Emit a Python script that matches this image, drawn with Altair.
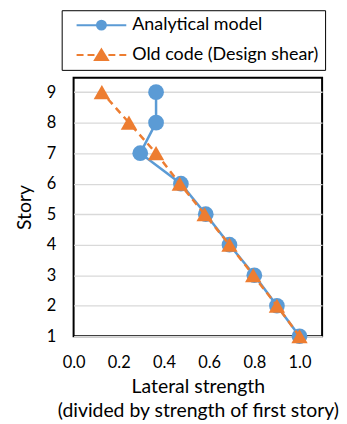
import altair as alt
import pandas as pd

stories = [1, 2, 3, 4, 5, 6, 7, 8, 9]
analytical = [1.0, 0.90, 0.80, 0.69, 0.585, 0.475, 0.295, 0.365, 0.365]
old_code = [1.0, 0.90, 0.795, 0.69, 0.58, 0.47, 0.365, 0.245, 0.125]
series_names = ["Analytical model", "Old code (Design shear)"]
colors = ["#5B9BD5", "#ED7D31"]
x_ticks = [0.0, 0.2, 0.4, 0.6, 0.8, 1.0]
y_ticks = stories

rows = []
for s, a in zip(stories, analytical):
    rows.append({"series": series_names[0], "story": s, "strength": a})
for s, o in zip(stories, old_code):
    rows.append({"series": series_names[1], "story": s, "strength": o})
df = pd.DataFrame(rows)

FONT = "Lato"

# legend symbols: line + marker, drawn as custom symbol paths
P1 = "M-5,0L5,0M-0.9,0A0.9,0.9,0,1,1,0.9,0A0.9,0.9,0,1,1,-0.9,0Z"
P2 = "M-5,0L-3.6,0M-2.8,0L-1.4,0M1.4,0L2.8,0M3.6,0L5,0M0,-1.1L1.3,1L-1.3,1Z"


def make_legend():
    return alt.Legend(
        title=None,
        orient="none",
        legendX=-12,
        legendY=-68,
        strokeColor="black",
        padding=6,
        labelFont=FONT,
        labelFontSize=18,
        labelColor="black",
        labelLimit=400,
        symbolSize=100,
        symbolStrokeWidth=2,
        symbolOpacity=1,
        symbolOffset=25,
        labelOffset=22,
        rowPadding=11,
    )


x_enc = alt.X(
    "strength:Q",
    scale=alt.Scale(domain=[0, 1.1], nice=False, zero=False),
    axis=alt.Axis(
        values=x_ticks,
        format=".1f",
        grid=False,
        ticks=False,
        domain=False,
        labelFlush=False,
        labelPadding=18,
        title=["Lateral strength", "(divided by strength of first story)"],
        titlePadding=7,
        titleLineHeight=24,
    ),
)
y_enc = alt.Y(
    "story:Q",
    scale=alt.Scale(domain=[1, 9.47], nice=False, zero=False),
    axis=alt.Axis(
        values=y_ticks,
        format="d",
        grid=True,
        gridColor="#D9D9D9",
        gridWidth=1.3,
        ticks=False,
        domain=False,
        labelFlush=False,
        labelPadding=18,
        title="Story",
        titlePadding=12,
    ),
)

base = alt.Chart(df)
is_a = alt.datum.series == series_names[0]
is_o = alt.datum.series == series_names[1]

line_a = base.transform_filter(is_a).mark_line(strokeWidth=2.5, color=colors[0]).encode(
    x=x_enc, y=y_enc, order=alt.Order("story:Q")
)
pts_a = base.transform_filter(is_a).mark_point(
    filled=True, shape="circle", size=250, opacity=1, color=colors[0]
).encode(x=x_enc, y=y_enc)
line_o = base.transform_filter(is_o).mark_line(
    strokeWidth=2.5, strokeDash=[7, 5], color=colors[1]
).encode(x=x_enc, y=y_enc, order=alt.Order("story:Q"))
pts_o = base.transform_filter(is_o).mark_point(
    filled=True, shape="triangle-up", size=270, opacity=1, color=colors[1]
).encode(x=x_enc, y=y_enc)

# legend-only layer (no rows drawn), scales carry the legend entries
legend_layer = base.transform_filter("false").mark_point(filled=True).encode(
    x=x_enc,
    y=y_enc,
    fill=alt.Fill("series:N", scale=alt.Scale(domain=series_names, range=colors), legend=make_legend()),
    stroke=alt.Stroke("series:N", scale=alt.Scale(domain=series_names, range=colors), legend=make_legend()),
    shape=alt.Shape("series:N", scale=alt.Scale(domain=series_names, range=[P1, P2]), legend=make_legend()),
)

chart = (
    alt.layer(line_a, pts_a, line_o, pts_o, legend_layer)
    .properties(width=250, height=260, padding={"left": 6, "top": 0, "right": 0, "bottom": 0})
    .configure_view(stroke="black", strokeWidth=2)
    .configure_axis(
        labelFont=FONT,
        labelFontSize=16.5,
        labelColor="black",
        titleFont=FONT,
        titleFontSize=19.5,
        titleFontWeight="normal",
        titleColor="black",
    )
)

chart.save("out.html", embed_options={"renderer": "svg", "actions": False})
